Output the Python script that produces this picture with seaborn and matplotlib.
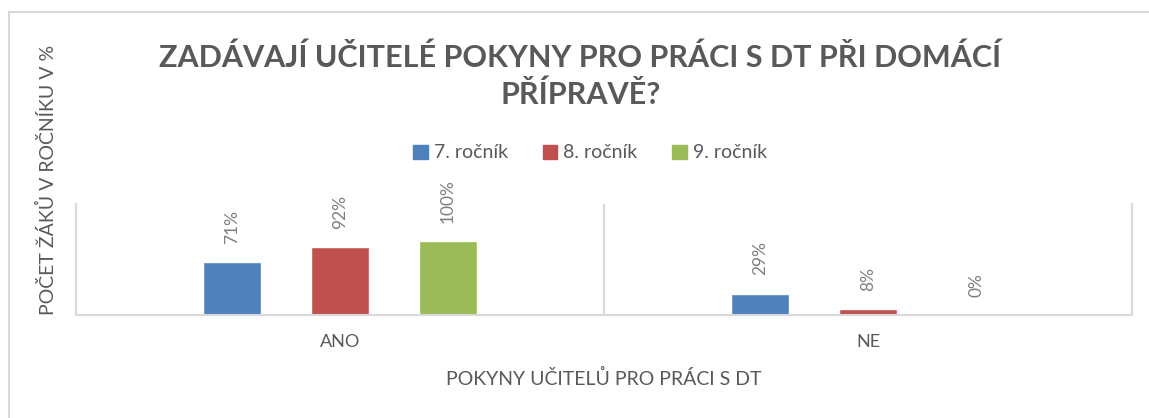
import pandas as pd
import matplotlib.pyplot as plt
import seaborn as sns
from matplotlib.patches import Rectangle

# data
odpovedi = ["ANO", "NE"]
rocniky = ["7. ročník", "8. ročník", "9. ročník"]
rocnik7 = [0.71, 0.29]
rocnik8 = [0.92, 0.08]
rocnik9 = [1.00, 0.00]
barvy = ["#4f81bd", "#c0504d", "#9bbb59"]

titulek = "ZADÁVAJÍ UČITELÉ POKYNY PRO PRÁCI S DT PŘI DOMÁCÍ\nPŘÍPRAVĚ?"
popis_x = "POKYNY UČITELŮ PRO PRÁCI S DT"
popis_y = "POČET ŽÁKŮ V ROČNÍKU V %"

rows = []
for r, vals in zip(rocniky, [rocnik7, rocnik8, rocnik9]):
    for o, v in zip(odpovedi, vals):
        rows.append({"odpoved": o, "rocnik": r, "podil": v})
df = pd.DataFrame(rows)

sns.set_style("white")
plt.rcParams['font.family'] = ['Lato', 'DejaVu Sans']
sedy = "#595959"

fig = plt.figure(figsize=(11.49, 4.18), dpi=100)
# light frame around the chart
fig.patches.append(Rectangle((9 / 1149, -0.1), 1.2, (418 - 12) / 418 + 0.1,
                             transform=fig.transFigure, fill=False,
                             edgecolor="#d9d9d9", linewidth=1.5))

ax = fig.add_axes([76 / 1149, 103 / 418, 1056 / 1149, 111 / 418])
sns.barplot(data=df, x="odpoved", y="podil", hue="rocnik", order=odpovedi,
            hue_order=rocniky, palette=barvy, width=0.614, gap=0.47,
            saturation=1, legend=False, ax=ax)

ax.set_xlim(-0.5, 1.5)
ax.set_ylim(0, 1.5)
ax.set_yticks([])
ax.axvline(0.5, color="#d9d9d9", linewidth=1.5)
for s in ["left", "right", "bottom"]:
    ax.spines[s].set_color("#d9d9d9")
    ax.spines[s].set_linewidth(1.5)
ax.spines["top"].set_visible(False)

ax.set_xticks([0, 1])
ax.set_xticklabels(odpovedi, fontsize=13, color=sedy)
ax.tick_params(axis="x", length=0, pad=14)
ax.set_xlabel(popis_x, fontsize=14, color=sedy, labelpad=13)
ax.set_ylabel("")

# value labels, rotated like in the original
for cont in ax.containers:
    for p in cont:
        h = p.get_height()
        ax.annotate(f"{h:.0%}", (p.get_x() + p.get_width() / 2, h),
                    xytext=(0, 13), textcoords="offset points",
                    rotation=90, ha="center", va="bottom",
                    fontsize=12.5, color="#7f7f7f", annotation_clip=False)

fig.text(47 / 1149, 0.57, popis_y, rotation=90, ha="center", va="center",
         fontsize=14, color=sedy)
fig.text(0.505, 1 - 76 / 418, titulek, ha="center", va="center",
         multialignment="center", fontsize=22, fontweight="bold",
         color=sedy, linespacing=1.35)

handles = [Rectangle((0, 0), 1, 1, color=c) for c in barvy]
fig.legend(handles, rocniky, loc="center", bbox_to_anchor=(590 / 1149, 1 - 153 / 418),
           ncol=3, frameon=False, fontsize=14, labelcolor=sedy,
           handlelength=0.75, handleheight=0.75, handletextpad=0.3, columnspacing=1.8)

plt.savefig("out.png", dpi=100)
